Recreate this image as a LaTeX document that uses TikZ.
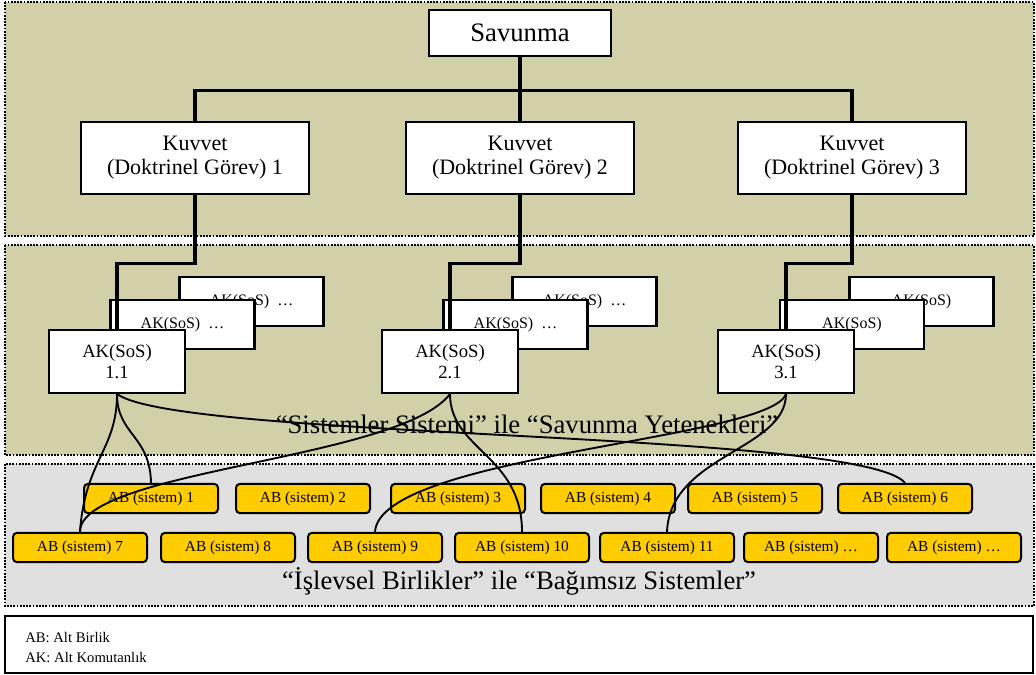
\documentclass[tikz,border=0pt]{standalone}
\usepackage{fontspec}
\setmainfont{Liberation Serif}

\definecolor{panelolive}{RGB}{210,208,168}
\definecolor{panelgrey}{RGB}{224,224,224}
\definecolor{abyellow}{RGB}{255,204,0}

\begin{document}
\begin{tikzpicture}[x=0.75pt, y=-0.75pt,
    panel/.style={line width=1.4pt, densely dotted},
    box/.style={draw, line width=1.7pt, fill=white, inner sep=0pt},
    topbox/.style={box, minimum width=137pt, minimum height=35pt, font=\fontsize{20}{24}\selectfont},
    kuvvetbox/.style={box, align=center, minimum width=171pt, minimum height=54pt, font=\fontsize{16.5}{18}\selectfont},
    akbox/.style={box, align=center, minimum width=102pt, minimum height=47pt, font=\fontsize{14}{16}\selectfont},
    akback/.style={box, minimum width=108pt, minimum height=37pt, font=\fontsize{12}{14}\selectfont},
    abbox/.style={draw, line width=1.5pt, fill=abyellow, rounded corners=3pt, inner sep=0pt,
        minimum width=100.5pt, minimum height=22pt, font=\fontsize{11.5}{13}\selectfont},
    biglabel/.style={anchor=base, inner sep=0pt, font=\fontsize{20}{24}\selectfont},
    legendtext/.style={anchor=base west, inner sep=0pt, font=\fontsize{11}{13}\selectfont},
    tree/.style={line width=2.3pt},
    link/.style={line width=1.4pt}]

    \useasboundingbox (0,0) rectangle (1036,675);

    \fill[panelolive] (5,2) rectangle (1034,236);
    \draw[panel] (5,2) rectangle (1034,236);
    \fill[panelolive] (5,245) rectangle (1034,455);
    \draw[panel] (5,245) rectangle (1034,455);
    \fill[panelgrey] (5,464) rectangle (1034,606);
    \draw[panel] (5,464) rectangle (1034,606);
    \draw[line width=1.4pt, fill=white] (5,616) rectangle (1033,673);

    \node[topbox] (sav) at (520,33) {Savunma};
    \node[kuvvetbox] (k1) at (195,158) {Kuvvet\\(Doktrinel Görev) 1};
    \node[kuvvetbox] (k2) at (520,158) {Kuvvet\\(Doktrinel Görev) 2};
    \node[kuvvetbox] (k3) at (852,158) {Kuvvet\\(Doktrinel Görev) 3};

    \draw[tree] (sav.south) -- ++(0,33) coordinate (bus) -| (k1.north);
    \draw[tree] (bus) -| (k3.north);
    \draw[tree] (bus) -- (k2.north);

    \foreach \g/\x in {1/117, 2/450} {
        \node[akback] (akback\g) at (\x+134.5,301.5) {AK(SoS)\ \ \ldots};
        \node[akback] (akmid\g) at (\x+65.5,324.5) {AK(SoS)\ \ \ldots};
    }
    \node[akback] (akback3) at (921.5,301.5) {AK(SoS)\hspace{30pt}};
    \node[akback] (akmid3) at (852,324.5) {AK(SoS)\hspace{30pt}};

    \node[akbox] (ak11) at (117,361.5) {AK(SoS)\\1.1};
    \node[akbox] (ak21) at (450,361.5) {AK(SoS)\\2.1};
    \node[akbox] (ak31) at (786,361.5) {AK(SoS)\\3.1};

    \draw[tree] (k1.south) -- ++(0,68) -| (ak11.north);
    \draw[tree] (k2.south) -- ++(0,68) -| (ak21.north);
    \draw[tree] (k3.south) -- ++(0,68) -| (ak31.north);

    \node[biglabel] (soslabel) at (527,433) {“Sistemler Sistemi” ile “Savunma Yetenekleri”};
    \node[biglabel] (ablabel) at (519,589) {“İşlevsel Birlikler” ile “Bağımsız Sistemler”};

    \foreach \n/\x in {1/151, 2/303, 3/458, 4/608, 5/755, 6/905} {
        \node[abbox] (ab\n) at (\x,498.5) {AB (sistem) \n};
    }
    \foreach \n/\x/\t in {7/80/7, 8/228/8, 9/375/9, 10/522/10, 11/667/11, 12/811/\ldots, 13/954/\ldots} {
        \node[abbox] (ab\n) at (\x,547.5) {AB (sistem) \t};
    }

    \draw[link] (ak11.south) .. controls (117,435) and (150,435) .. (ab1.north);
    \draw[link] (ak11.south) .. controls (117,450) and (85,460) .. (ab7.north);
    \draw[link] (ak11.south) .. controls (180,440) and (860,430) .. (ab6.north);
    \draw[link] (ak21.south) .. controls (400,460) and (80,470) .. (ab7.north);
    \draw[link] (ak21.south) .. controls (450,450) and (522,455) .. (ab10.north);
    \draw[link] (ak31.south) .. controls (770,440) and (380,455) .. (ab9.north);
    \draw[link] (ak31.south) .. controls (786,450) and (670,455) .. (ab11.north);

    \node[legendtext] (legab) at (25,642) {AB: Alt Birlik};
    \node[legendtext] (legak) at (25,662) {AK: Alt Komutanlık};
\end{tikzpicture}
\end{document}
